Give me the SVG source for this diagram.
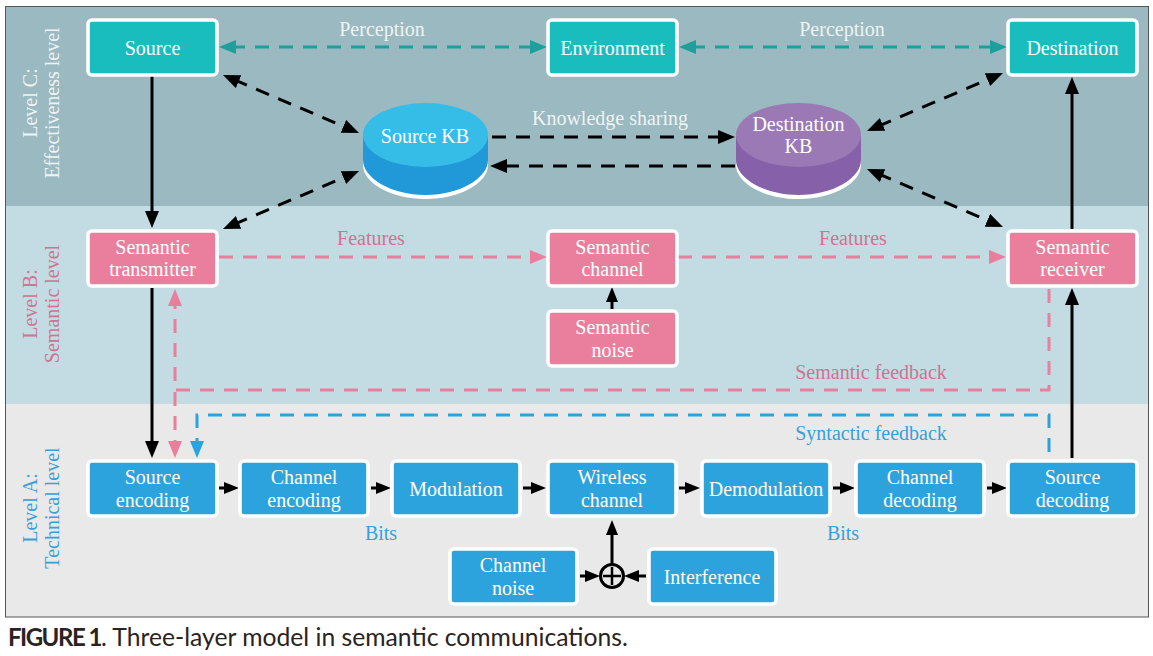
<svg xmlns="http://www.w3.org/2000/svg" width="1153" height="656" viewBox="0 0 1153 656">
<style>
text{font-family:"Liberation Serif","Times New Roman",serif;font-size:20px;text-anchor:middle}
.w{fill:#fff}
.box{stroke:#fff;stroke-width:3.6}
.t{fill:#19bdbd}.p{fill:#e97f9d}.b{fill:#2ca3dc}
.c{fill:none;stroke-width:3}
.k{stroke:#000}.dk{stroke:#000;stroke-dasharray:14 10}
.dt{stroke:#1d9f9c;stroke-dasharray:14 10}
.dp{stroke:#e97f9d;stroke-dasharray:14 10}
.db{stroke:#2ca3dc;stroke-dasharray:14 10}
.lc{fill:#eef3f3}.lp{fill:#cf7394}.lb{fill:#3a9fd6}
</style>
<defs>
<marker id="ak" markerUnits="userSpaceOnUse" markerWidth="20" markerHeight="16" refX="5" refY="7" orient="auto-start-reverse"><path d="M0 0L17 7L0 14z" fill="#000"/></marker>
<marker id="as" markerUnits="userSpaceOnUse" markerWidth="16" markerHeight="14" refX="4" refY="6" orient="auto-start-reverse"><path d="M0 0L15 6L0 12z" fill="#000"/></marker>
<marker id="at" markerUnits="userSpaceOnUse" markerWidth="20" markerHeight="16" refX="5" refY="7" orient="auto-start-reverse"><path d="M0 0L17 7L0 14z" fill="#1d9f9c"/></marker>
<marker id="ap" markerUnits="userSpaceOnUse" markerWidth="20" markerHeight="16" refX="5" refY="7" orient="auto-start-reverse"><path d="M0 0L17 7L0 14z" fill="#e97f9d"/></marker>
<marker id="ab" markerUnits="userSpaceOnUse" markerWidth="20" markerHeight="16" refX="5" refY="7" orient="auto-start-reverse"><path d="M0 0L17 7L0 14z" fill="#2ca3dc"/></marker>
</defs>
<g id="panels">
<rect x="5.5" y="6.5" width="1143" height="199.500" fill="#9bb9c0"/>
<rect x="5.5" y="206" width="1143" height="198" fill="#c3dbe2"/>
<rect x="5.5" y="404" width="1143" height="213" fill="#e9e9e9"/>
<rect x="5.5" y="6.500" width="1143" height="610.500" fill="none" stroke="#555" stroke-width="1"/>
</g>
<g id="connectors">
<path class="c dt" d="M231 47H535" marker-start="url(#at)" marker-end="url(#at)"/>
<path class="c dt" d="M691 47H995" marker-start="url(#at)" marker-end="url(#at)"/>
<path class="c k" d="M152 76V216" marker-end="url(#ak)"/>
<path class="c dk" d="M234 79.700L348 128.300" marker-start="url(#ak)" marker-end="url(#ak)"/>
<path class="c dk" d="M234 224.300L348 175.700" marker-start="url(#ak)" marker-end="url(#ak)"/>
<path class="c dk" d="M492 137H723" marker-end="url(#ak)"/>
<path class="c dk" d="M735 166H502" marker-end="url(#ak)"/>
<path class="c dk" d="M878 126.300L992 77.700" marker-start="url(#ak)" marker-end="url(#ak)"/>
<path class="c dk" d="M878 173.700L992 222.300" marker-start="url(#ak)" marker-end="url(#ak)"/>
<path class="c k" d="M1072 229V89" marker-end="url(#ak)"/>
<path class="c dp" d="M219 257H535" marker-end="url(#ap)"/>
<path class="c dp" d="M678 257H994" marker-end="url(#ap)"/>
<path class="c k" d="M612 309V298" marker-end="url(#as)"/>
<path class="c k" d="M152 288V446" marker-end="url(#ak)"/>
<path class="c dp" d="M1049 289V390H175V301" marker-end="url(#ap)"/>
<path class="c dp" d="M175 392V446" marker-end="url(#ap)"/>
<path class="c db" d="M1049 452V415H197V446" marker-end="url(#ab)"/>
<path class="c k" d="M1072 458V300" marker-end="url(#ak)"/>
<path class="c k" d="M219 488H228" marker-end="url(#as)"/>
<path class="c k" d="M371 488H380" marker-end="url(#as)"/>
<path class="c k" d="M523 488H535" marker-end="url(#as)"/>
<path class="c k" d="M679 488H689" marker-end="url(#as)"/>
<path class="c k" d="M833 488H844" marker-end="url(#as)"/>
<path class="c k" d="M987 488H996" marker-end="url(#as)"/>
<path class="c k" d="M580 576H589" marker-end="url(#as)"/>
<path class="c k" d="M646 576H635" marker-end="url(#as)"/>
<path class="c k" d="M612 564V531" marker-end="url(#as)"/>
</g>
<g id="adder"><circle cx="612" cy="576" r="11.500" fill="none" stroke="#000" stroke-width="3"/><path d="M603 576H621M612 567V585" stroke="#000" stroke-width="2.500"/></g>
<g id="source"><rect class="box t" x="88" y="20" width="129" height="55" rx="4"/><text class="w" x="152.500" y="54.500">Source</text></g>
<g id="environment"><rect class="box t" x="548" y="20" width="129" height="55" rx="4"/><text class="w" x="612.500" y="54.500">Environment</text></g>
<g id="destination"><rect class="box t" x="1008" y="20" width="129" height="55" rx="4"/><text class="w" x="1072.500" y="54.500">Destination</text></g>
<g id="source-kb"><path d="M363 136V165C363 183 391 199 425.500 199S488 183 488 165V136z" fill="#fff"/><path d="M363 136V160C363 178 391 195 425.500 195S488 178 488 160V136z" fill="#2198d8"/><ellipse cx="425.500" cy="135" rx="62.500" ry="32" fill="#35bde8"/><text class="w" x="425" y="142.500">Source KB</text></g>
<g id="destination-kb"><path d="M736 136V165C736 183 764 199 798.500 199S861 183 861 165V136z" fill="#fff"/><path d="M736 136V160C736 178 764 195 798.500 195S861 178 861 160V136z" fill="#8660a8"/><ellipse cx="798.500" cy="135" rx="62.500" ry="32" fill="#9a79b5"/><text class="w" x="798.500" y="130.500">Destination</text><text class="w" x="798.500" y="153">KB</text></g>
<g id="semantic-transmitter"><rect class="box p" x="88" y="231" width="129" height="55" rx="4"/><text class="w" x="152.500" y="254">Semantic</text><text class="w" x="152.500" y="275.500">transmitter</text></g>
<g id="semantic-channel"><rect class="box p" x="548" y="231" width="129" height="55" rx="4"/><text class="w" x="612.500" y="254">Semantic</text><text class="w" x="612.500" y="275.500">channel</text></g>
<g id="semantic-receiver"><rect class="box p" x="1008" y="231" width="129" height="55" rx="4"/><text class="w" x="1072.500" y="254">Semantic</text><text class="w" x="1072.500" y="275.500">receiver</text></g>
<g id="semantic-noise"><rect class="box p" x="548" y="311" width="129" height="55" rx="4"/><text class="w" x="612.500" y="334">Semantic</text><text class="w" x="612.500" y="356.500">noise</text></g>
<g id="source-encoding"><rect class="box b" x="88" y="461" width="129" height="55" rx="4"/><text class="w" x="152.500" y="483.500">Source</text><text class="w" x="152.500" y="506.500">encoding</text></g>
<g id="channel-encoding"><rect class="box b" x="240" y="461" width="128" height="55" rx="4"/><text class="w" x="304" y="483.500">Channel</text><text class="w" x="304" y="506.500">encoding</text></g>
<g id="modulation"><rect class="box b" x="392" y="461" width="128" height="55" rx="4"/><text class="w" x="456" y="495.500">Modulation</text></g>
<g id="wireless-channel"><rect class="box b" x="548" y="461" width="128" height="55" rx="4"/><text class="w" x="612" y="483.500">Wireless</text><text class="w" x="612" y="506.500">channel</text></g>
<g id="demodulation"><rect class="box b" x="702" y="461" width="128" height="55" rx="4"/><text class="w" x="766" y="495.500">Demodulation</text></g>
<g id="channel-decoding"><rect class="box b" x="856" y="461" width="128" height="55" rx="4"/><text class="w" x="920" y="483.500">Channel</text><text class="w" x="920" y="506.500">decoding</text></g>
<g id="source-decoding"><rect class="box b" x="1008" y="461" width="129" height="55" rx="4"/><text class="w" x="1072.500" y="483.500">Source</text><text class="w" x="1072.500" y="506.500">decoding</text></g>
<g id="channel-noise"><rect class="box b" x="450" y="549" width="127" height="55" rx="4"/><text class="w" x="513" y="571.500">Channel</text><text class="w" x="513" y="594.500">noise</text></g>
<g id="interference"><rect class="box b" x="649" y="549" width="127" height="55" rx="4"/><text class="w" x="712" y="583.500">Interference</text></g>
<g id="labels">
<text class="lc" x="382" y="35.500">Perception</text>
<text class="lc" x="842" y="35.500">Perception</text>
<text class="lc" x="610" y="124.500">Knowledge sharing</text>
<text class="lp" x="371" y="245">Features</text>
<text class="lp" x="853" y="245">Features</text>
<text class="lp" x="871" y="378.500">Semantic feedback</text>
<text class="lb" x="871" y="440">Syntactic feedback</text>
<text class="lb" x="381" y="539.500">Bits</text>
<text class="lb" x="843" y="539.500">Bits</text>
<text class="lc" transform="translate(37 103) rotate(-90)">Level C:</text>
<text class="lc" transform="translate(59 103) rotate(-90)">Effectiveness level</text>
<text class="lp" transform="translate(37 304) rotate(-90)">Level B:</text>
<text class="lp" transform="translate(59 304) rotate(-90)">Semantic level</text>
<text class="lb" transform="translate(37 508) rotate(-90)">Level A:</text>
<text class="lb" transform="translate(59 508) rotate(-90)">Technical level</text>
</g>
<g id="caption"><text x="8" y="646" style="font-family:Lato,'Open Sans',sans-serif;font-size:24.7px;text-anchor:start;fill:#2a2320"><tspan font-weight="700" letter-spacing="-1.500" font-size="24">FIGURE 1</tspan>. Three-layer model in semantic communications.</text></g>
</svg>
